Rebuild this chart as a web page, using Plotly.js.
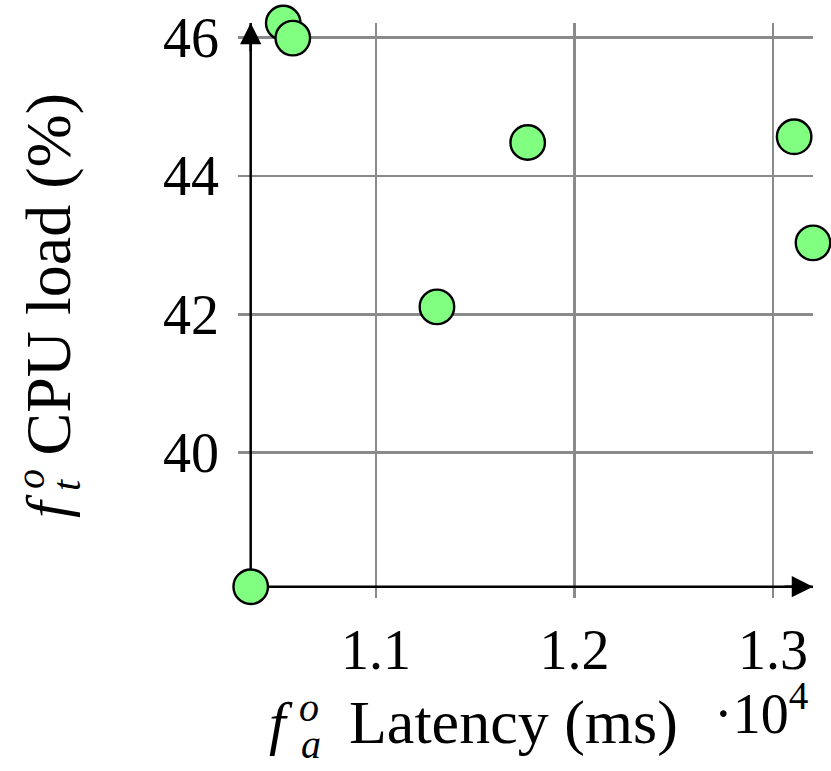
<!DOCTYPE html>
<html>
<head>
<meta charset="utf-8">
<script src="https://cdn.plot.ly/plotly-3.0.1.min.js"></script>
<style>
  html, body { margin: 0; padding: 0; background: #fff; }
  #chart { width: 831px; height: 771px; }
</style>
</head>
<body>
<div id="chart"></div>
<script>
// valores (latencia en ms, carga de CPU en %)
const latency = [10369, 10533, 10581, 11307, 11764, 13106, 13201];
const cpuLoad = [38.063, 46.208, 45.99, 42.106, 44.481, 44.564, 43.031];

const xTickVals = [11000, 12000, 13000];
const xTickText = ['1.1', '1.2', '1.3'];
const yTickVals = [40, 42, 44, 46];
const yTickText = ['40', '42', '44', '46'];

const FONT = 'Liberation Serif, Times New Roman, serif';

// el area de la grilla se extiende un poco por debajo/izquierda de los ejes
const xmin = Math.min(...latency), xmax = Math.max(...latency);
const ymin = Math.min(...cpuLoad), ymax = Math.max(...cpuLoad);
const padX = (xmax - xmin) * (12.7 / 562.3);
const padY = (ymax - ymin) * (11.3 / 563.7);

// pixel -> coordenadas paper (area del grafico 238..813 x 23..598)
const px = p => (p - 238) / 575;
const py = p => (598 - p) / 575;

const puntos = {
    x: latency,
    y: cpuLoad,
    type: 'scatter',
    mode: 'markers',
    cliponaxis: false,
    marker: { size: 34.5, color: '#80ff80', line: { color: '#000', width: 2.4 } },
    hoverinfo: 'x+y'
};

function texto(txt, x, y, size, extra) {
    return Object.assign({
        text: txt, xref: 'paper', yref: 'paper', x: x, y: y,
        showarrow: false, xanchor: 'center', yanchor: 'middle',
        font: { family: FONT, size: size, color: '#000' }
    }, extra || {});
}

const anotaciones = [
    // flechas de los ejes
    { x: xmax, y: ymin, xref: 'x', yref: 'y', ax: -30, ay: 0, text: '', showarrow: true,
      arrowhead: 2, arrowsize: 1.7, arrowwidth: 2.5, arrowcolor: '#000', standoff: 0 },
    { x: xmin, y: ymax, xref: 'x', yref: 'y', ax: 0, ay: 30, text: '', showarrow: true,
      arrowhead: 2, arrowsize: 1.7, arrowwidth: 2.5, arrowcolor: '#000', standoff: 0 },
    // titulo eje x
    texto('<i>f</i>', px(281), py(723), 60),
    texto('<i>o</i>', px(309), py(707), 40),
    texto('<i>a</i>', px(311), py(744), 40),
    texto('Latency (ms)', px(347), py(722), 62, { xanchor: 'left' }),
    texto('·10<sup>4</sup>', px(712), py(709), 56, { xanchor: 'left' }),
    // titulo eje y
    texto('<i>f</i>', px(47), py(506), 60, { textangle: -90 }),
    texto('<i>o</i>', px(30), py(479), 40, { textangle: -90 }),
    texto('<i>t</i>', px(66), py(485), 40, { textangle: -90 }),
    texto('CPU load (%)', px(48), py(458), 64, { textangle: -90, yanchor: 'bottom' })
];

const layout = {
    width: 831,
    height: 771,
    margin: { l: 238, r: 18, t: 23, b: 173 },
    paper_bgcolor: '#fff',
    plot_bgcolor: '#fff',
    showlegend: false,
    font: { family: FONT, color: '#000' },
    xaxis: {
        range: [xmin - padX, xmax],
        tickvals: xTickVals,
        ticktext: xTickText,
        showgrid: true,
        gridcolor: '#8a8a8a',
        gridwidth: 2.6,
        zeroline: false,
        showline: false,
        ticks: '',
        ticklabelstandoff: 14,
        tickfont: { family: FONT, size: 56, color: '#000' }
    },
    yaxis: {
        range: [ymin - padY, ymax],
        tickvals: yTickVals,
        ticktext: yTickText,
        showgrid: true,
        gridcolor: '#8a8a8a',
        gridwidth: 2.6,
        zeroline: false,
        showline: false,
        ticks: '',
        ticklabelstandoff: 18,
        tickfont: { family: FONT, size: 56, color: '#000' }
    },
    shapes: [
        { type: 'line', xref: 'x', yref: 'y', x0: xmin, y0: ymin, x1: xmax, y1: ymin,
          layer: 'between', line: { color: '#000', width: 2.5 } },
        { type: 'line', xref: 'x', yref: 'y', x0: xmin, y0: ymin, x1: xmin, y1: ymax,
          layer: 'between', line: { color: '#000', width: 2.5 } }
    ],
    annotations: anotaciones
};

Plotly.newPlot('chart', [puntos], layout, { displayModeBar: false, staticPlot: true });
</script>
</body>
</html>
